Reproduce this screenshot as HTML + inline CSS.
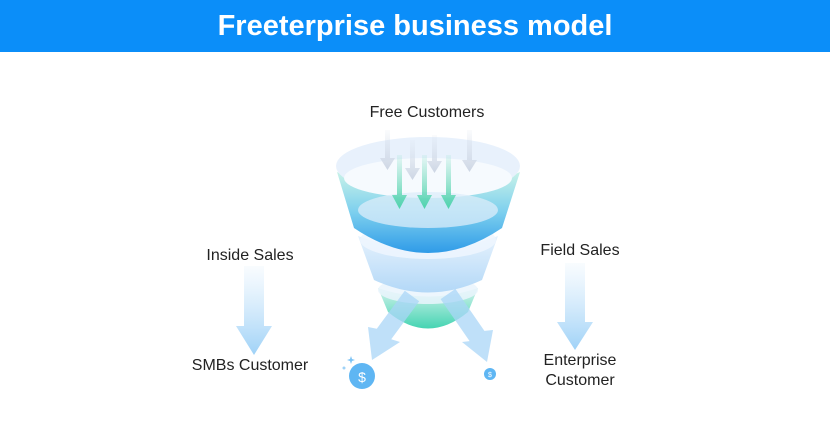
<!DOCTYPE html>
<html><head><meta charset="utf-8"><style>
body{margin:0;width:830px;height:446px;background:#fff;overflow:hidden;font-family:"Liberation Sans",sans-serif;}
.hdr{position:absolute;left:0;top:0;width:830px;height:52px;background:#0b8ef9;color:#fff;font-weight:bold;font-size:29px;text-align:center;line-height:52px;}
.t{position:absolute;font-size:16px;color:#222;text-align:center;}
</style></head><body>
<div class="hdr">Freeterprise business model</div>
<svg style="position:absolute;left:0;top:0" width="830" height="446">
<defs>
<linearGradient id="ga" x1="0" y1="0" x2="0" y2="1"><stop offset="0" stop-color="#bfe0fa" stop-opacity="0.1"/><stop offset="1" stop-color="#9fd2f7"/></linearGradient>
<linearGradient id="b1" x1="0" y1="0" x2="0" y2="1"><stop offset="0" stop-color="#c8f2e8"/><stop offset="0.5" stop-color="#7ccfee"/><stop offset="1" stop-color="#2f9be8"/></linearGradient>
<linearGradient id="b2" x1="0" y1="0" x2="0" y2="1"><stop offset="0" stop-color="#e6f2fd"/><stop offset="1" stop-color="#b3d8f7"/></linearGradient>
<linearGradient id="b3" x1="0" y1="0" x2="0" y2="1"><stop offset="0" stop-color="#d3f3ec"/><stop offset="1" stop-color="#45d4b2"/></linearGradient>
<linearGradient id="gg" x1="0" y1="0" x2="0" y2="1"><stop offset="0" stop-color="#5fd6b3" stop-opacity="0.1"/><stop offset="1" stop-color="#4fd3ac"/></linearGradient>
<linearGradient id="gr" x1="0" y1="0" x2="0" y2="1"><stop offset="0" stop-color="#d5dde9" stop-opacity="0.1"/><stop offset="1" stop-color="#cdd6e4"/></linearGradient>
</defs>
<path d="M244 266H264V326H272L254 355L236 326H244Z" fill="url(#ga)"/>
<path d="M565 263H585V322H593L575 350L557 322H565Z" fill="url(#ga)"/>
<!-- band3 -->
<path d="M378 288Q428 305 478 288L468 312Q428 345 388 312Z" fill="url(#b3)"/>
<ellipse cx="428" cy="290" rx="50" ry="14" fill="#eaf4fd" opacity="0.85"/>
<!-- band2 -->
<path d="M358 236Q428 262 498 236L482 280Q428 305 374 280Z" fill="url(#b2)"/>
<ellipse cx="428" cy="240" rx="68" ry="19" fill="#eef6fe" opacity="0.85"/>
<!-- band1 -->
<path d="M337 172Q428 215 520 172L502 228Q428 278 354 228Z" fill="url(#b1)"/>
<ellipse cx="428" cy="166" rx="92" ry="29" fill="#e8f1fc"/>
<ellipse cx="428" cy="178" rx="84" ry="20" fill="#f6fafe"/>
<ellipse cx="428" cy="210" rx="70" ry="18" fill="#dcecfa" opacity="0.75"/>
<!-- diagonal arrows -->
<path d="M404.8 290.7L419.2 301.3L391.2 339.3L400 342L372 360L368 327L376.8 328.7Z" fill="#a9d6f7" opacity="0.75"/>
<path d="M440.6 299.1L469.6 341.1L462 342L487 362L493 330L484.4 330.9L455.4 288.9Z" fill="#a9d6f7" opacity="0.75"/>
<g fill="url(#gr)">
<path d="M385 130h5v28h5l-7.5 12l-7.5-12h5z"/>
<path d="M410 140h5v28h5l-7.5 12l-7.5-12h5z"/>
<path d="M432 135h5v26h5l-7.5 12l-7.5-12h5z"/>
<path d="M467 130h5v30h5l-7.5 12l-7.5-12h5z"/>
</g>
<g fill="url(#gg)">
<path d="M397 155h5v40h5l-7.5 14l-7.5-14h5z"/>
<path d="M422 155h5v40h5l-7.5 14l-7.5-14h5z"/>
<path d="M446 155h5v40h5l-7.5 14l-7.5-14h5z"/>
</g>
<circle cx="362" cy="376" r="13" fill="#5fb6f3"/>
<text x="362" y="382" font-size="14" fill="#fff" text-anchor="middle" font-family="Liberation Sans">$</text>
<circle cx="490" cy="374" r="6" fill="#5fb6f3"/>
<text x="490" y="377" font-size="7" fill="#fff" text-anchor="middle" font-family="Liberation Sans">$</text>
<path d="M351 356l1 3 3 1-3 1-1 3-1-3-3-1 3-1z" fill="#7cc3f5"/>
<circle cx="344" cy="368" r="1.5" fill="#9fd2f7"/>
</svg>
<div class="t" style="left:327px;top:104px;width:200px">Free Customers</div>
<div class="t" style="left:150px;top:247px;width:200px">Inside Sales</div>
<div class="t" style="left:150px;top:357px;width:200px">SMBs Customer</div>
<div class="t" style="left:480px;top:242px;width:200px">Field Sales</div>
<div class="t" style="left:480px;top:351px;width:200px;line-height:20px">Enterprise<br>Customer</div>
</body></html>
